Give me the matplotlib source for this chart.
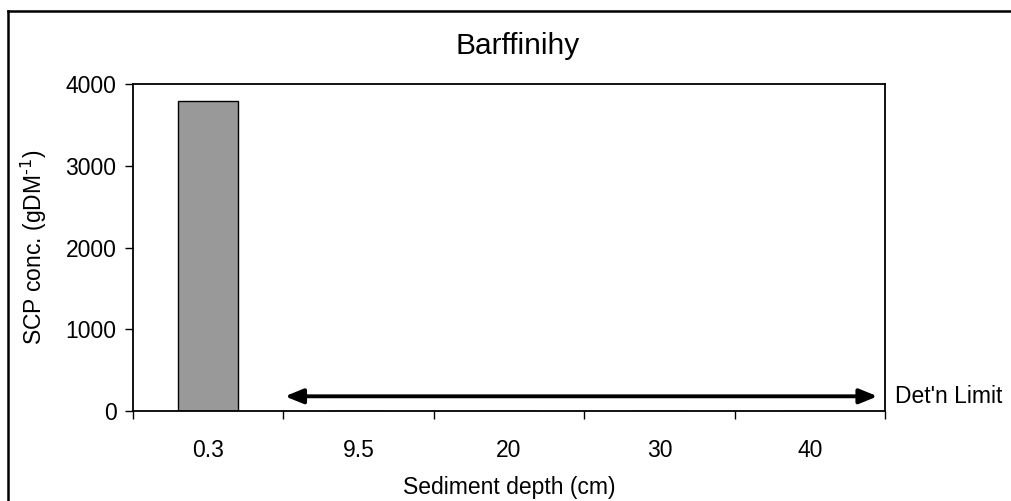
"""SCP concentration profile for Barffinihy sediment core."""

import matplotlib

matplotlib.use("Agg")

import matplotlib.pyplot as plt
import matplotlib.transforms as mtransforms
from matplotlib.lines import Line2D
import numpy as np

plt.rcParams["font.family"] = ["Liberation Sans", "DejaVu Sans"]

site = "Barffinihy"
depths = ["0.3", "9.5", "20", "30", "40"]
scp_conc = [3790, 0, 0, 0, 0]
det_limit = 180
y_ticks = [0, 1000, 2000, 3000, 4000]

fig = plt.figure(figsize=(10.11, 5.01), dpi=100)
ax = fig.add_axes([0.1316, 0.1796, 0.7438, 0.6527])

x = np.arange(len(depths))
ax.bar(x, scp_conc, width=0.4, color="#999999", edgecolor="black", linewidth=1.0)

ax.set_xlim(-0.5, len(depths) - 0.5)
ax.set_ylim(0, 4000)
ax.set_yticks(y_ticks)

# category labels sit between the tick marks
ax.set_xticks(np.arange(len(depths) + 1) - 0.5)
ax.set_xticklabels([])
ax.set_xticks(x, minor=True)
ax.set_xticklabels(depths, minor=True)
ax.tick_params(axis="x", which="major", direction="out", length=6, width=1.0)
ax.tick_params(axis="x", which="minor", length=0, pad=20, labelsize=16.5)
ax.tick_params(axis="y", direction="out", length=6, width=1.0, pad=6, labelsize=16.5)

for side in ax.spines.values():
    side.set_linewidth(1.3)

ax.set_xlabel("Sediment depth (cm)", fontsize=16.5)
ax.xaxis.set_label_coords(0.5, -0.198)
ax.set_ylabel(r"SCP conc. (gDM$^{\text{-1}}$)", fontsize=16.5)
ax.yaxis.set_label_coords(-0.112, 0.5)

# detection limit arrow across the samples below it
ax.annotate(
    "",
    xy=(4.45, det_limit),
    xytext=(0.51, det_limit),
    arrowprops=dict(
        arrowstyle="<|-|>,head_length=0.54,head_width=0.22",
        mutation_scale=20,
        color="black",
        lw=2.8,
        shrinkA=0,
        shrinkB=0,
    ),
    annotation_clip=False,
)
trans = mtransforms.blended_transform_factory(ax.transAxes, ax.transData)
ax.text(1.013, det_limit, "Det'n Limit", transform=trans, fontsize=16.5,
        ha="left", va="center")

fig.text(0.5115, 1 - 46 / 501, site, fontsize=21.5, ha="center", va="center")

# outer chart frame (left and top edges)
fig.add_artist(Line2D([7.5 / 1011, 7.5 / 1011], [0, 1 - 10.5 / 501],
                      color="black", lw=1.8, transform=fig.transFigure))
fig.add_artist(Line2D([7.5 / 1011, 1], [1 - 10.5 / 501, 1 - 10.5 / 501],
                      color="black", lw=1.8, transform=fig.transFigure))

fig.savefig("out.png", dpi=100)
plt.close(fig)
